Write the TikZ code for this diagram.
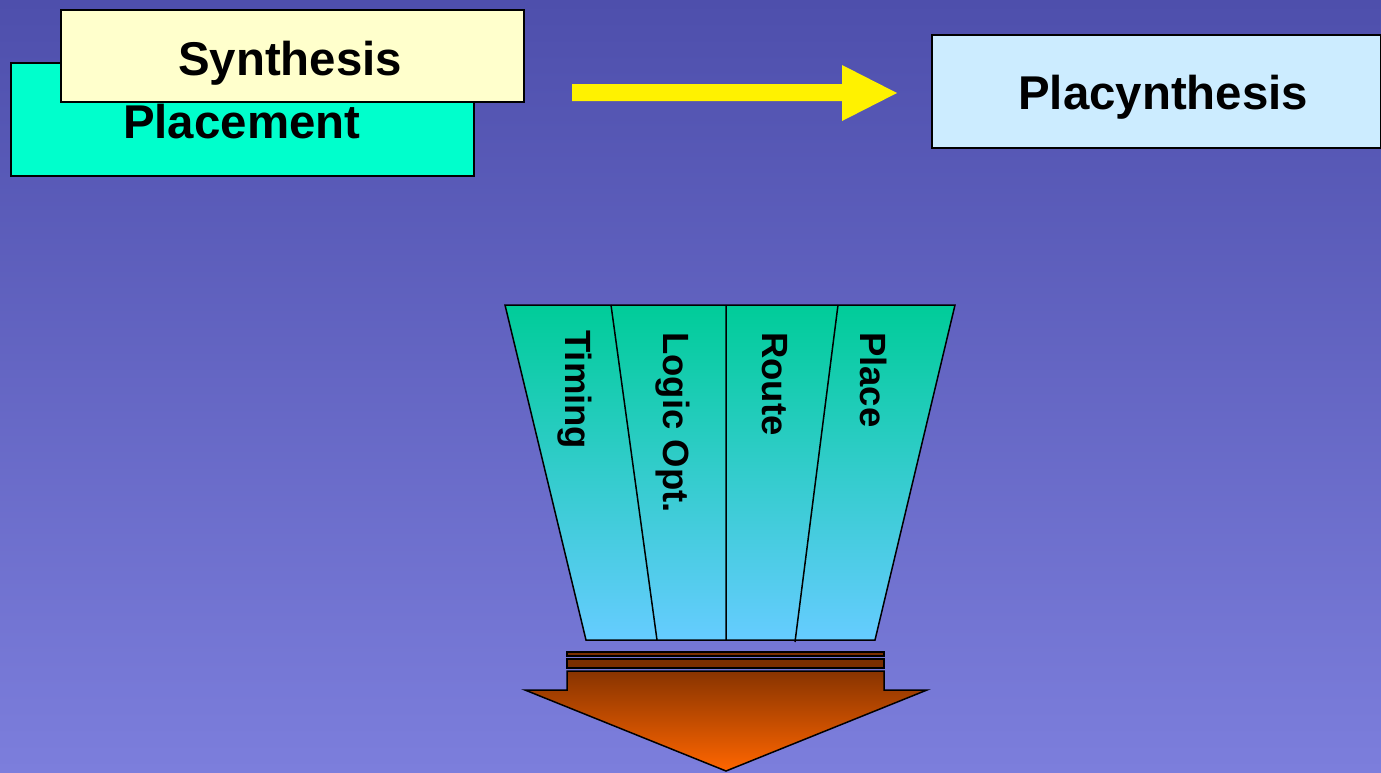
\documentclass[tikz,border=0pt]{standalone}
\usepackage{fontspec}
\setmainfont{Liberation Sans}
\definecolor{bgtop}{RGB}{78,79,172}
\definecolor{bgbot}{RGB}{124,126,220}
\definecolor{placefill}{RGB}{0,255,204}
\definecolor{synfill}{RGB}{255,255,204}
\definecolor{plcfill}{RGB}{204,236,255}
\definecolor{trtop}{RGB}{0,204,153}
\definecolor{trbot}{RGB}{102,204,255}
\definecolor{artop}{RGB}{136,52,0}
\definecolor{arbot}{RGB}{255,102,0}
\definecolor{barfill}{RGB}{122,46,0}
\begin{document}
\begin{tikzpicture}[x=1pt,y=-1pt,line join=miter,
  box/.style={draw=black,line width=1.5pt,rectangle,inner sep=0pt,anchor=north west},
  lbl/.style={inner sep=0pt,font=\fontsize{47.4}{50}\selectfont\bfseries,anchor=base west},
  vlbl/.style={inner sep=0pt,font=\fontsize{36.5}{40}\selectfont\bfseries,rotate=-90,anchor=base west},
  outline/.style={draw=black,line width=1.5pt}]
\useasboundingbox (0,0) rectangle (1381,772);
\shade[top color=bgtop,bottom color=bgbot] (0,0) rectangle (1381,772);
% top-left boxes
\node[box,fill=placefill,minimum width=463pt,minimum height=113pt] (placement) at (10,62) {};
\node[lbl] (placementtxt) at (123,138) {Placement};
\node[box,fill=synfill,minimum width=463pt,minimum height=92pt] (synthesis) at (60,9) {};
\node[lbl] (synthesistxt) at (178,75) {Synthesis};
% right box
\node[box,fill=plcfill,minimum width=449pt,minimum height=113pt] (placyn) at (931,34) {};
\node[lbl] (placyntxt) at (1018,109) {Placynthesis};
% yellow arrow
\fill[yellow] (572,84) -- (842,84) -- (842,65) -- (897,93) -- (842,121) -- (842,101) -- (572,101) -- cycle;
% trapezoid
\coordinate (tl) at (505,305);
\coordinate (tr) at (955,305);
\coordinate (br) at (875,640);
\coordinate (bl) at (586,640);
\shade[top color=trtop,bottom color=trbot] (tl) -- (tr) -- (br) -- (bl) -- cycle;
\draw[outline] (tl) -- (tr) -- (br) -- (bl) -- cycle;
\coordinate (d1t) at (611,305); \coordinate (d1b) at (657,640);
\coordinate (d2t) at (726,305); \coordinate (d2b) at (726,640);
\coordinate (d3t) at (838,305); \coordinate (d3b) at (795,642);
\draw[outline] (d1t) -- (d1b) (d2t) -- (d2b) (d3t) -- (d3b);
\node[vlbl] (timing) at (565,330) {Timing};
\node[vlbl] (logic) at (663,332) {Logic Opt.};
\node[vlbl] (route) at (762,332) {Route};
\node[vlbl] (place) at (860,332) {Place};
% bottom arrow
\filldraw[outline,fill=barfill] (567,652) rectangle (884,656);
\filldraw[outline,fill=barfill] (567,659) rectangle (884,668);
\coordinate (a1) at (567,671); \coordinate (a2) at (884,671);
\coordinate (a3) at (884,690); \coordinate (a4) at (927,690);
\coordinate (a5) at (726,771); \coordinate (a6) at (525,690);
\coordinate (a7) at (567,690);
\shade[top color=artop,bottom color=arbot] (a1) -- (a2) -- (a3) -- (a4) -- (a5) -- (a6) -- (a7) -- cycle;
\draw[outline] (a1) -- (a2) -- (a3) -- (a4) -- (a5) -- (a6) -- (a7) -- cycle;
\end{tikzpicture}
\end{document}
